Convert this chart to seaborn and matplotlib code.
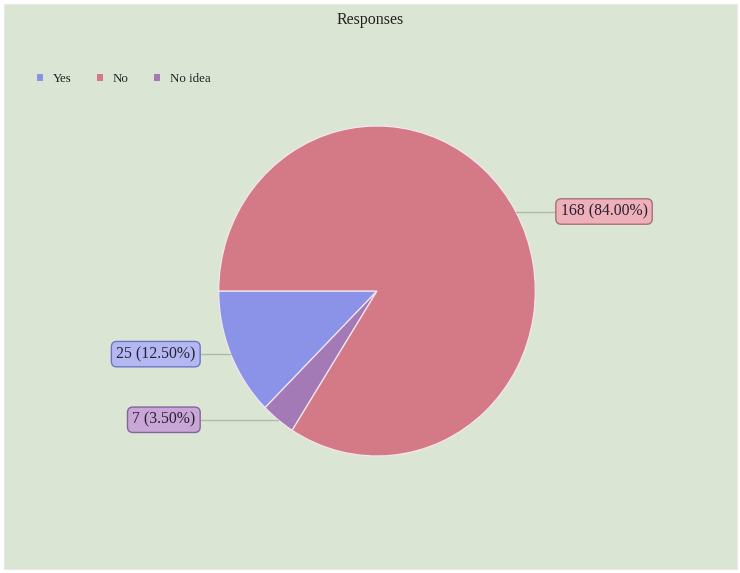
import matplotlib
matplotlib.use("Agg")
import matplotlib.pyplot as plt
from matplotlib.patches import Rectangle
import numpy as np
import seaborn as sns

# Survey data (legend order)
categories = ["Yes", "No", "No idea"]
counts = [25, 168, 7]
slice_colors = ["#8a93e8", "#d47a87", "#a47ab6"]
box_faces = ["#b4b8f2", "#eeb0b9", "#c8a6d6"]
box_edges = ["#6e76c4", "#a8707a", "#84649a"]
# order in which the slices run round the pie
draw_order = [0, 2, 1]

sns.set_theme(style="white")
plt.rcParams["font.family"] = ["Liberation Serif", "DejaVu Serif"]

W, H = 740, 573
fig = plt.figure(figsize=(W / 100, H / 100), dpi=100)
fig.patch.set_facecolor("white")
fig.patches.append(Rectangle((4 / W, 4 / H), 733 / W, 565 / H, transform=fig.transFigure,
                             facecolor="#dae5d3", edgecolor="#e6ece2", linewidth=0.8,
                             zorder=-10))

ax = fig.add_axes([0, 0, 1, 1])
ax.set_facecolor("none")
ax.set_zorder(5)

wedges, _ = ax.pie([counts[i] for i in draw_order],
                   colors=[slice_colors[i] for i in draw_order],
                   startangle=180, counterclock=True, radius=1.0,
                   wedgeprops=dict(edgecolor="#f3e6ee", linewidth=0.9))
wedge_of = {i: w for i, w in zip(draw_order, wedges)}

# Pie centre and radii in pixels (slightly taller than wide)
cx, cy = 377, 291
rx, ry = 158.3, 165.0
ax.set_aspect("auto")
ax.set_xlim(-cx / rx, (W - cx) / rx)
ax.set_ylim(-(H - cy) / ry, cy / ry)
ax.axis("off")

ax.set_title("Responses", fontsize=11.5, color="#222222", y=1.0, pad=-17)

total = sum(counts)
for i, n in enumerate(counts):
    w = wedge_of[i]
    mid = np.deg2rad((w.theta1 + w.theta2) / 2)
    x0, y0 = np.cos(mid), np.sin(mid)
    label = f"{n} ({n / total * 100:.2f}%)"
    if x0 >= 0:
        xt, ha = (555 - cx) / rx, "left"
    else:
        xt, ha = (201 - cx) / rx, "right"
    ax.plot([x0, xt], [y0, y0], color="#aebca6", linewidth=1.0, zorder=1)
    ax.text(xt + (0.035 if ha == "left" else -0.035), y0, label, ha=ha, va="center",
            fontsize=11.3, color="#2a2033", zorder=3,
            bbox=dict(boxstyle="round,pad=0.3,rounding_size=0.35", facecolor=box_faces[i],
                      edgecolor=box_edges[i], linewidth=1.0))

leg = ax.legend([wedge_of[i] for i in range(len(categories))], categories,
                loc="upper left", bbox_to_anchor=(37 / W, 1 - 73 / H),
                bbox_transform=fig.transFigure, ncol=3, frameon=False, fontsize=9.3,
                handlelength=0.45, handleheight=0.45, handletextpad=0.75, columnspacing=2.0,
                borderpad=0, borderaxespad=0)
for t in leg.get_texts():
    t.set_color("#222222")
for h in leg.legend_handles:
    h.set_edgecolor("none")

fig.savefig("out.png", dpi=100, facecolor=fig.get_facecolor())
